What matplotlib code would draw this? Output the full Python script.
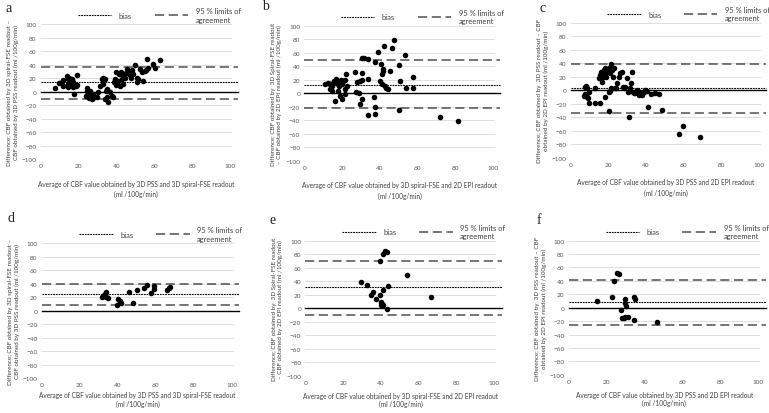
import matplotlib
matplotlib.use("Agg")
import matplotlib.pyplot as plt
from matplotlib.lines import Line2D

plt.rcParams['font.family'] = ['Lato', 'DejaVu Sans']

# ---- data ----
# a: 3D spiral-FSE vs 3D PSS
a_x = [7.6, 9.9, 11, 11.6, 12, 13.7, 14.3, 14.6, 15, 15.5, 14.6, 16.4, 17, 17.3, 17.6,
       18.7, 19.4, 19.4, 16.4, 23.8, 24.6, 25, 25.7, 26, 26.4, 27, 27.8, 28.7, 29.6,
       30.5, 31.3, 32.2, 32.7, 34, 34.5, 34, 35, 35.2, 35.8, 36.6, 37.5, 38.4, 38.9,
       39.3, 39.8, 40, 40.8, 41.5, 42.2, 42.8, 43.7, 44.5, 45, 45.4, 46.3, 47.2, 47.7,
       48.6, 49.8, 50.7, 51, 51.6, 52.5, 53.3, 54.2, 55, 56, 56.9, 59.5, 60.4, 63,
       55.6, 46.8, 48, 44, 24.2, 25.1, 33, 41.7, 43.5]
a_y = [5.2, 13, 15, 17, 8, 23, 19, 12, 20, 14, 7, 10, 7, 14, -3,
       8, 25, 10, 19, -5.7, 5, -1, -9, 1.7, -5.7, -10.6, -3, -8, -7,
       -0.7, 9, 19, 11.6, 19, 0.7, -10.6, -8, 4, -15.6, -0.7, -5.7, -8, 14,
       19, 29, 10, 16.5, 26.4, 30, 19, 11.6, 21, 28, 34, 31, 25, 20,
       26, 39, 21, 14, 19, 34, 29, 16.5, 31, 48.6, 35, 41, 35, 47.7,
       32, 28, 32, 24, 1.7, -5.7, 20, 9.1, 21.4]
a_bias, a_lo, a_hi = 14, -10, 37

# b: 3D spiral-FSE vs 2D EPI
b_x = [11.0, 12.4, 13.6, 14.5, 15.4, 15.9, 16.6, 17.2, 17.7, 18.1, 18.4, 18.9, 19.5,
       19.8, 20.7, 21.6, 22.0, 22.5, 13.6, 14.5, 18.1, 18.9, 19.8, 16.3, 21.6, 21.6,
       26.9, 27.3, 27.8, 29.0, 29.6, 30.4, 30.4, 29.6, 30.4, 33.6, 31.9, 30.4, 34.0,
       34.0, 37.2, 37.5, 37.5, 37.5, 38.9, 40.2, 40.7, 41.1, 41.1, 41.6, 41.9, 42.3,
       42.8, 43.4, 44.6, 45.5, 46.7, 47.6, 50.4, 50.8, 50.3, 53.4, 54.0, 57.9, 57.9,
       72.0, 81.8]
b_y = [14.2, 15.7, 13.3, 10.8, 15.7, 18.2, 20.6, 15.7, 13.3, 18.2, 10.8, 15.7, 19.2,
       13.3, 18.2, 19.2, 28.0, 10.8, 5.9, 3.4, 3.4, -4.0, -8.9, -11.4, 5.9, -1.5,
       32.0, 1.9, 17.2, 0.9, 18.2, 30.5, -8.9, -16.3, 19.2, 50.2, 52.7, 52.7, 21.6,
       -32.6, -5.0, -20.3, -31.1, 46.8, 61.5, 18.2, 42.8, 13.3, 28.0, 33.0, 35.4, 69.9,
       10.8, 7.3, 5.9, 33.0, 67.5, 78.8, 41.3, 18.2, -24.7, 56.1, 8.3, 24.6, 8.3,
       -34.5, -40.9]
b_bias, b_lo, b_hi = 13, -22, 50

# c: 3D PSS vs 2D EPI
c_x = [7.4, 8.1, 8.7, 7.8, 6.9, 8.7, 9.2, 9.9, 9.6, 12.7, 13.1, 15.8, 14.9, 15.8, 16.3,
       16.6, 17.0, 17.5, 18.1, 18.4, 19.0, 19.3, 19.8, 20.5, 21.1, 21.6, 22.0, 22.3,
       22.9, 23.4, 21.6, 21.1, 20.2, 18.1, 20.5, 24.1, 24.6, 25.5, 26.4, 27.3, 27.6,
       28.2, 29.1, 30.0, 30.5, 30.8, 31.7, 32.2, 32.6, 33.1, 33.5, 34.4, 35.3, 36.1,
       37.0, 37.9, 38.8, 39.7, 40.6, 41.1, 42.9, 45.0, 46.8, 48.6, 59.6, 57.8, 68.9]
c_y = [5.4, 6.9, 3.0, -6.0, -8.0, -9.5, -11.9, -19.4, -2.0, 3.0, -18.4, -18.4, 17.8, 22.7,
       27.7, 12.8, 20.2, 30.1, 25.2, 32.6, 20.2, 27.7, 30.1, 33.6, 25.2, 38.6, 30.1, 20.2,
       32.6, 3.0, 3.0, -1.0, -3.0, -9.5, -30.2, 3.9, 10.3, 20.2, 25.2, 27.7, 5.4,
       3.0, 5.4, 17.8, -2.0, -40.1, 3.0, 10.3, 27.7, -2.0, -4.5, -4.5, 0.4, -7.0,
       -3.0, -7.0, -2.0, 0.4, -1.0, -25.3, -6.0, -4.5, -6.0, -29.3, -52.5, -64.9, -68.8]
c_bias, c_lo, c_hi = 4, -34, 39

# d: 3D spiral-FSE vs 3D PSS (second group)
d_x = [32, 33, 33.5, 34, 35, 34, 39.5, 40, 41, 42, 46, 48, 50, 54, 55.5, 57.5, 59, 59,
       66, 67, 67.5]
d_y = [20, 23, 25, 21, 19, 28, 8, 18, 15, 12, 28, 12, 31, 33, 38, 26, 37, 32,
       31, 34, 35]
d_bias, d_lo, d_hi = 25, 9, 39

# e: 3D spiral-FSE vs 2D EPI (second group)
e_x = [29.6, 32.6, 43.8, 35.8, 34.6, 39.3, 37.6, 40.2, 40.6, 41.1, 39.9, 43.0, 39.7,
       41.1, 42.3, 43.0, 54.0, 66.7, 40.9]
e_y = [38.8, 34.9, 32.4, 24.0, 20.0, 20.0, 14.1, 9.2, 6.7, 5.2, 4.2, -1.7, 69.9,
       80.8, 84.2, 83.3, 48.7, 16.6, 27.0]
e_bias, e_lo, e_hi = 31, -10, 70

# f: 3D PSS vs 2D EPI (second group)
f_x = [15.1, 22.9, 24.0, 25.7, 26.4, 29.6, 29.9, 30.4, 27.4, 28.3, 29.2, 29.9, 31.3,
       34.5, 34.9, 34.5, 46.8]
f_y = [10.5, 15.5, 39.9, 51.3, 50.3, 12.5, 6.5, 3.0, -3.4, -14.9, -14.9, -14.4, -13.4,
       16.0, 12.5, -18.4, -20.9]
f_bias, f_lo, f_hi = 8, -26, 42

ylab_ab = ("Difference; CBF obtained by 3D spiral-FSE readout \u2013\n"
           "CBF obtained by 3D PSS readout (ml /100g/min)")
ylab_be = ("Difference; CBF obtained by  3D Spiral-FSE readout\n"
           "\u2013 CBF obtained by 2D EPI readout (ml /100g/min)")
ylab_cf = ("Difference; CBF obtained by  3D PSS readout \u2013 CBF\n"
           "obtained by 2D EPI readout (ml /100g/min)")
xlab_ad = "Average of CBF value obtained by 3D PSS and 3D spiral-FSE readout\n(ml /100g/min)"
xlab_be = "Average of CBF value obtained by 3D spiral-FSE and 2D EPI readout\n(ml /100g/min)"
xlab_cf = "Average of CBF value obtained by 3D PSS and 2D EPI readout\n(ml /100g/min)"

# letter, axes box, data, labels, letter position (px), xlabel pad, xlabel line spacing
panels = [
    ("a", [0.0529, 0.6128, 0.2488, 0.3261], a_x, a_y, a_bias, a_lo, a_hi, xlab_ad, ylab_ab, (6, 8), 8, 1.6),
    ("b", [0.3957, 0.6087, 0.2475, 0.3268], b_x, b_y, b_bias, b_lo, b_hi, xlab_be, ylab_be, (262, 7), 8, 1.6),
    ("c", [0.7421, 0.6167, 0.2469, 0.3254], c_x, c_y, c_bias, c_lo, c_hi, xlab_cf, ylab_cf, (539, 8), 8, 1.6),
    ("d", [0.0542, 0.0845, 0.2495, 0.3254], d_x, d_y, d_bias, d_lo, d_hi, xlab_ad, ylab_ab, (7, 219), 3, 1.2),
    ("e", [0.3970, 0.0901, 0.2482, 0.3261], e_x, e_y, e_bias, e_lo, e_hi, xlab_be, ylab_be, (269, 221), 5, 1.2),
    ("f", [0.7395, 0.0925, 0.2486, 0.3237], f_x, f_y, f_bias, f_lo, f_hi, xlab_cf, ylab_cf, (537, 221), 5, 1.2),
]

fig = plt.figure(figsize=(7.69, 4.14), dpi=100)
txt = '#404040'

for letter, pos, xs, ys, bias, lo, hi, xlab, ylab, lpos, xpad, xls in panels:
    ax = fig.add_axes(pos)
    ax.set_xlim(0, 101)
    ax.set_ylim(-100, 100)
    ax.set_xticks(range(0, 101, 20))
    ax.set_yticks(range(-100, 101, 20))
    ax.grid(axis='y', color='#d9d9d9', linewidth=0.6)
    ax.set_axisbelow(True)
    for s in ax.spines.values():
        s.set_visible(False)
    ax.tick_params(length=0, labelsize=4.6, labelcolor='#595959', pad=3)

    ax.plot([0, 104], [0, 0], color='black', linewidth=1.0, clip_on=False)
    ax.plot([0, 104], [bias, bias], color='black', linewidth=0.8,
            dashes=(1.6, 0.8), clip_on=False)
    for v in (lo, hi):
        ax.plot([0, 104], [v, v], color='#505050', linewidth=1.1,
                dashes=(6, 3), clip_on=False)
    ax.scatter(xs, ys, s=16, color='black', zorder=3, linewidths=0)

    ax.set_xlabel(xlab, fontsize=4.7, color=txt, labelpad=xpad, linespacing=xls)
    ax.set_ylabel(ylab, fontsize=4.5, color=txt, labelpad=2, linespacing=1.3)

    h = [Line2D([], [], color='black', linewidth=0.8, dashes=(1.6, 0.8)),
         Line2D([], [], color='#505050', linewidth=1.1, dashes=(6, 3))]
    ax.legend(h, ['bias', '95 % limits of\nagreement'], ncol=2, frameon=False,
              loc='lower center', bbox_to_anchor=(0.62, 0.99), fontsize=5.4,
              handlelength=4.5, columnspacing=3.0, handletextpad=1.0,
              labelcolor=txt, borderaxespad=0)

    fig.text(lpos[0] / 769, 1 - lpos[1] / 414, letter, family='Liberation Serif',
             fontsize=10, va='center', ha='left', color='#222222')

fig.savefig("out.png", dpi=100)
